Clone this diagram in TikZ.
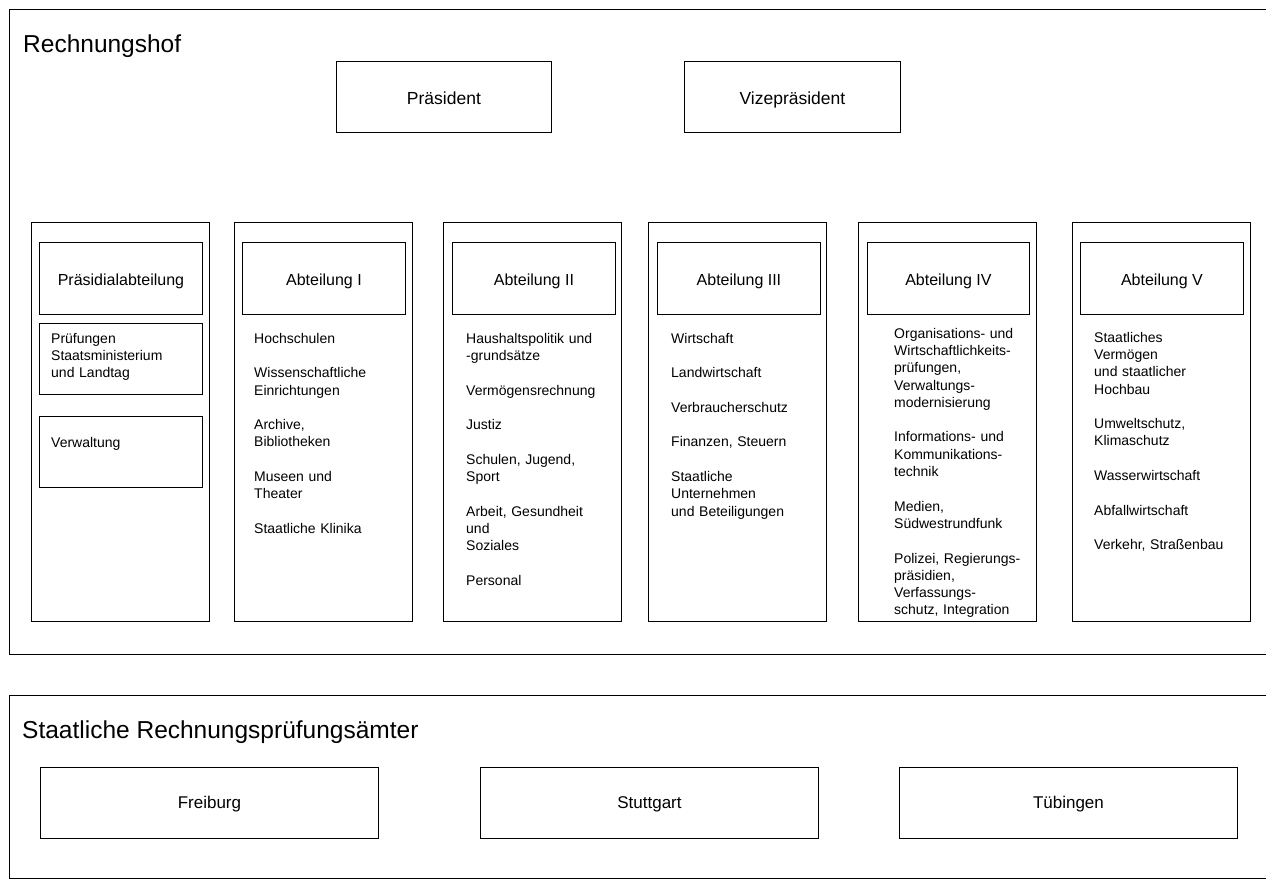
\documentclass[tikz,border=0pt]{standalone}
\usepackage{fontspec}
\setmainfont{Liberation Sans}
\usetikzlibrary{positioning}

\begin{document}
\begin{tikzpicture}[x=1pt, y=-1pt,
    frame/.style={line width=1pt},
    box/.style={draw, line width=0.9pt, inner sep=0pt, anchor=north west},
    col/.style={box, minimum width=178pt, minimum height=399pt},
    head/.style={box, minimum width=163pt, minimum height=72pt, text height=14pt, text depth=0pt, font=\fontsize{16}{19}\selectfont},
    sub/.style={box, minimum width=163pt, minimum height=71pt},
    chief/.style={box, minimum height=71pt, text height=15pt, text depth=0pt, font=\fontsize{17.5}{21}\selectfont},
    office/.style={box, minimum width=338pt, minimum height=71pt, text height=11pt, text depth=0pt, font=\fontsize{17}{20}\selectfont},
    title/.style={anchor=base west, inner sep=0pt, font=\fontsize{24.5}{29}\selectfont},
    topics/.style={anchor=north west, inner sep=0pt, text width=140pt, align=left, font=\fontsize{14}{17.3}\selectfont}]
    \useasboundingbox (0,0) rectangle (1266,879);

    % Rechnungshof
    \draw[frame] (1266,9) -- (9,9) -- (9,654) -- (1266,654);
    \node[title] (rhof) at (23,52) {Rechnungshof};
    \node[chief, minimum width=215pt] (praes) at (336,61) {Präsident};
    \node[chief, minimum width=216pt] (vize) at (684,61) {Vizepräsident};

    % Abteilungen
    \node[col] (col0) at (31,222) {};
    \node[col] (col1) at (234,222) {};
    \node[col] (col2) at (443,222) {};
    \node[col] (col3) at (648,222) {};
    \node[col] (col4) at (858,222) {};
    \node[col] (col5) at (1072,222) {};

    \node[head] (head0) at (39,242) {Präsidialabteilung};
    \node[head] (head1) at (242,242) {Abteilung I};
    \node[head] (head2) at (452,242) {Abteilung II};
    \node[head] (head3) at (657,242) {Abteilung III};
    \node[head, minimum width=162pt] (head4) at (867,242) {Abteilung IV};
    \node[head] (head5) at (1080,242) {Abteilung V};

    \node[sub] (pruef) at (39,323) {};
    \node[sub] (verw) at (39,416) {};
    \node[topics] (pruef text) at (51,332.8) {Prüfungen\\ Staatsministerium\\ und Landtag};
    \node[topics] (verw text) at (51,436.8) {Verwaltung};

    \node[topics] (topics1) at (254,332.8) {Hochschulen\\[17.3pt]
        Wissenschaftliche\\ Einrichtungen\\[17.3pt]
        Archive,\\ Bibliotheken\\[17.3pt]
        Museen und\\ Theater\\[17.3pt]
        Staatliche Klinika};
    \node[topics] (topics2) at (466,332.8) {Haushaltspolitik und\\ -grundsätze\\[17.3pt]
        Vermögensrechnung\\[17.3pt]
        Justiz\\[17.3pt]
        Schulen, Jugend,\\ Sport\\[17.3pt]
        Arbeit, Gesundheit\\ und\\ Soziales\\[17.3pt]
        Personal};
    \node[topics] (topics3) at (671,332.8) {Wirtschaft\\[17.3pt]
        Landwirtschaft\\[17.3pt]
        Verbraucherschutz\\[17.3pt]
        Finanzen, Steuern\\[17.3pt]
        Staatliche\\ Unternehmen\\ und Beteiligungen};
    \node[topics] (topics4) at (894,327.8) {Organisations- und\\ Wirtschaftlichkeits-\\ prüfungen,\\ Verwaltungs-\\ modernisierung\\[17.3pt]
        Informations- und\\ Kommunikations-\\ technik\\[17.3pt]
        Medien,\\ Südwestrundfunk\\[17.3pt]
        Polizei, Regierungs-\\ präsidien,\\ Verfassungs-\\ schutz, Integration};
    \node[topics] (topics5) at (1094,331.8) {Staatliches\\ Vermögen\\ und staatlicher\\ Hochbau\\[17.3pt]
        Umweltschutz,\\ Klimaschutz\\[17.3pt]
        Wasserwirtschaft\\[17.3pt]
        Abfallwirtschaft\\[17.3pt]
        Verkehr, Straßenbau};

    % Staatliche Rechnungsprüfungsämter
    \draw[frame] (1266,695) -- (9,695) -- (9,878) -- (1266,878);
    \node[title] (sra) at (22,738) {Staatliche Rechnungsprüfungsämter};
    \node[office] (freiburg) at (40,767) {Freiburg};
    \node[office] (stuttgart) at (480,767) {Stuttgart};
    \node[office] (tuebingen) at (899,767) {Tübingen};
\end{tikzpicture}
\end{document}
